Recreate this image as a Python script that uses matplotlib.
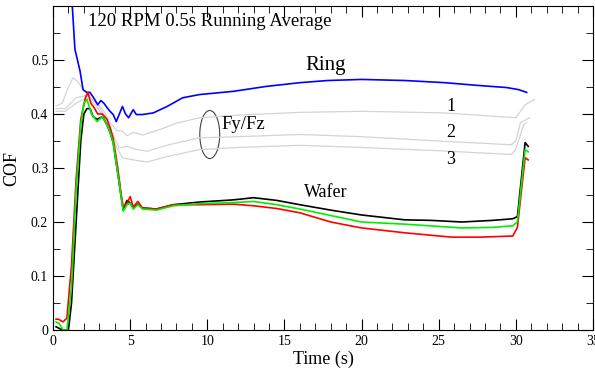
#COF vs time plot, 120 RPM running average
import matplotlib
matplotlib.use('Agg')
import matplotlib.pyplot as plt
from matplotlib.patches import Ellipse
from matplotlib.ticker import MultipleLocator

plt.rcParams['font.family'] = ['Liberation Serif', 'DejaVu Serif']

# Ring (blue)
ring_t = [1.1, 1.25, 1.42, 1.75, 1.95, 2.2, 2.4, 2.7, 2.9, 3.1, 3.3, 3.5, 3.7, 3.9, 4.1, 4.3, 4.5,
          4.7, 4.9, 5.2, 5.4, 5.8, 6.5, 7.4, 8.4, 9.5, 11.7, 13.8, 16, 17.8, 20, 22.8, 25.4,
          27.5, 29.4, 30.2, 30.7]
ring_y = [0.65, 0.60, 0.52, 0.48, 0.445, 0.44, 0.44, 0.427, 0.417, 0.425, 0.42, 0.412, 0.405,
          0.399, 0.386, 0.40, 0.414, 0.400, 0.393, 0.408, 0.399, 0.399, 0.402, 0.414, 0.430,
          0.436, 0.442, 0.451, 0.458, 0.462, 0.464, 0.462, 0.458, 0.453, 0.449, 0.445, 0.440]

# Fy/Fz gray lines 1, 2, 3
g1_t = [0.2, 0.6, 1.0, 1.3, 1.6, 1.95, 2.4, 2.85, 3.3, 3.7, 4.1, 4.5, 4.8, 5.2, 5.8, 7.0, 8.0,
        9.5, 12, 16, 20, 25.4, 30.0, 30.3, 30.6, 31.2]
g1_y = [0.415, 0.42, 0.45, 0.467, 0.46, 0.445, 0.43, 0.42, 0.405, 0.385, 0.37, 0.368, 0.36,
        0.366, 0.361, 0.372, 0.383, 0.393, 0.398, 0.403, 0.405, 0.402, 0.393, 0.405, 0.417, 0.427]
g2_t = [0.2, 0.8, 1.5, 2.2, 2.8, 3.4, 3.9, 4.3, 4.8, 5.3, 6.1, 7.5, 9.5, 12, 16, 20, 25, 29.7,
        30.0, 30.3, 30.9]
g2_y = [0.41, 0.41, 0.43, 0.435, 0.42, 0.395, 0.36, 0.337, 0.34, 0.335, 0.331, 0.343, 0.356,
        0.358, 0.362, 0.358, 0.350, 0.343, 0.35, 0.384, 0.393]
g3_t = [0.2, 0.8, 1.5, 2.2, 2.8, 3.4, 3.9, 4.5, 5.0, 6.1, 7.5, 9.5, 12, 16, 20, 25, 29.7, 30.0,
        30.5, 30.7]
g3_y = [0.405, 0.405, 0.42, 0.43, 0.415, 0.39, 0.35, 0.319, 0.316, 0.311, 0.322, 0.334, 0.338,
        0.342, 0.338, 0.332, 0.325, 0.335, 0.380, 0.384]

# Wafer lines
blk_t = [0.2, 0.6, 1.0, 1.2, 1.5, 1.8, 2.0, 2.2, 2.4, 2.6, 2.85, 3.2, 3.5, 3.7, 3.9, 4.2, 4.4,
         4.55, 4.8, 5.0, 5.2, 5.5, 5.8, 6.7, 7.8, 9.5, 11.7, 13, 14.5, 16, 18, 20, 22.8, 24.5,
         26.5, 28.5, 29.8, 30.1, 30.6, 30.8]
blk_y = [0.006, 0.0, 0.0, 0.05, 0.2, 0.35, 0.40, 0.41, 0.41, 0.395, 0.39, 0.395, 0.38, 0.366,
         0.347, 0.29, 0.25, 0.223, 0.24, 0.235, 0.226, 0.233, 0.226, 0.224, 0.232, 0.237, 0.241,
         0.245, 0.24, 0.232, 0.222, 0.213, 0.204, 0.203, 0.200, 0.203, 0.206, 0.21, 0.347, 0.340]
red_t = [0.2, 0.35, 0.65, 0.9, 1.2, 1.5, 1.8, 2.1, 2.27, 2.45, 2.7, 2.9, 3.2, 3.5, 3.7, 3.9, 4.2,
         4.4, 4.55, 4.8, 5.0, 5.2, 5.5, 5.8, 6.7, 7.8, 9.5, 11.7, 13, 14.5, 16, 18, 20, 22.8,
         25.8, 27.7, 29.8, 30.1, 30.6, 30.8]
red_y = [0.02, 0.02, 0.015, 0.022, 0.12, 0.28, 0.39, 0.43, 0.44, 0.42, 0.41, 0.40, 0.40, 0.39,
         0.375, 0.355, 0.30, 0.255, 0.228, 0.235, 0.247, 0.228, 0.238, 0.226, 0.224, 0.232,
         0.232, 0.233, 0.230, 0.225, 0.217, 0.200, 0.189, 0.180, 0.172, 0.172, 0.174, 0.19,
         0.319, 0.315]
grn_t = [0.2, 0.4, 0.65, 0.9, 1.2, 1.5, 1.8, 2.0, 2.2, 2.5, 2.85, 3.2, 3.5, 3.7, 3.9, 4.2, 4.4,
         4.55, 4.8, 5.0, 5.2, 5.5, 5.8, 6.7, 7.8, 9.5, 11.7, 13, 14.5, 16, 18, 20, 22.8, 26.5,
         28.5, 29.8, 30.1, 30.6, 30.8]
grn_y = [0.015, 0.012, 0.0, 0.0, 0.08, 0.26, 0.38, 0.42, 0.427, 0.40, 0.386, 0.395, 0.38, 0.366,
         0.347, 0.29, 0.25, 0.22, 0.232, 0.235, 0.224, 0.232, 0.224, 0.222, 0.23, 0.234, 0.236,
         0.238, 0.232, 0.224, 0.212, 0.2, 0.196, 0.189, 0.19, 0.193, 0.2, 0.334, 0.33]

xticks = [0, 5, 10, 15, 20, 25, 30, 35]
yticks = [0, 0.1, 0.2, 0.3, 0.4, 0.5]
ytick_labels = ['0', '0.1', '0.2', '0.3', '0.4', '0.5']

fig = plt.figure(figsize=(5.95, 3.71), dpi=100)
ax = fig.add_axes([53/595, 41/371, 540/595, 324/371])

gray = '#d4d4d4'
ax.plot(g1_t, g1_y, color=gray, lw=0.9)
ax.plot(g2_t, g2_y, color=gray, lw=0.9)
ax.plot(g3_t, g3_y, color=gray, lw=0.9)
ax.plot(ring_t, ring_y, color='#0000ff', lw=1.2)
ax.plot(blk_t, blk_y, color='black', lw=1.2)
ax.plot(red_t, red_y, color='#ff0000', lw=1.2)
ax.plot(grn_t, grn_y, color='#00ee00', lw=1.2)

ax.add_patch(Ellipse((10.16, 0.362), 1.29, 0.089, fill=False, edgecolor='#444444', lw=0.8))

ax.set_xlim(0, 35)
ax.set_ylim(0, 0.6)
ax.set_xticks(xticks)
ax.set_yticks(yticks)
ax.set_yticklabels(ytick_labels)
ax.xaxis.set_minor_locator(MultipleLocator(1))
ax.yaxis.set_minor_locator(MultipleLocator(0.05))
ax.tick_params(which='both', direction='in', top=True, right=True, labelsize=10)
ax.tick_params(which='major', length=8)
ax.tick_params(which='minor', length=5)

ax.set_xlabel('Time (s)', fontsize=13, labelpad=2)
ax.set_ylabel('COF', fontsize=13, labelpad=8)

ax.text(2.3, 0.572, '120 RPM 0.5s Running Average', fontsize=13.5, va='center')
ax.text(17.7, 0.49, 'Ring', fontsize=15, ha='center', va='center')
ax.text(17.7, 0.254, 'Wafer', fontsize=13, ha='center', va='center')
ax.text(12.35, 0.38, 'Fy/Fz', fontsize=13.5, ha='center', va='center')
ax.text(25.8, 0.414, '1', fontsize=13, ha='center', va='center')
ax.text(25.8, 0.365, '2', fontsize=13, ha='center', va='center')
ax.text(25.8, 0.315, '3', fontsize=13, ha='center', va='center')

plt.savefig('out.png', dpi=100)
